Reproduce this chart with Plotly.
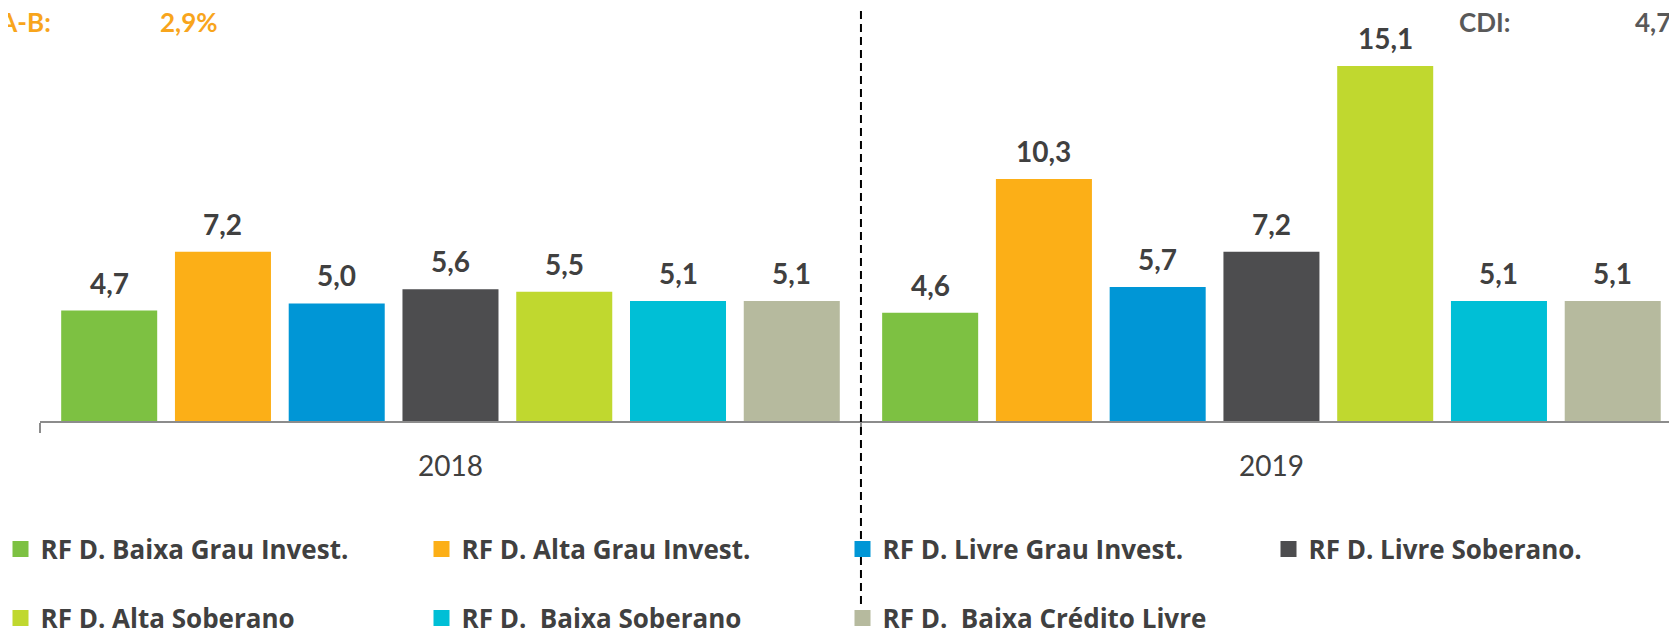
import plotly.graph_objects as go

# dados
anos = ["2018", "2019"]
series = [
    "RF D. Baixa Grau Invest.",
    "RF D. Alta Grau Invest.",
    "RF D. Livre Grau Invest.",
    "RF D. Livre Soberano.",
    "RF D. Alta Soberano",
    "RF D.\u00a0 Baixa Soberano",
    "RF D.\u00a0 Baixa Crédito Livre",
]
baixa_grau = [4.7, 4.6]
alta_grau = [7.2, 10.3]
livre_grau = [5.0, 5.7]
livre_soberano = [5.6, 7.2]
alta_soberano = [5.5, 15.1]
baixa_soberano = [5.1, 5.1]
baixa_credito = [5.1, 5.1]
valores = [baixa_grau, alta_grau, livre_grau, livre_soberano,
           alta_soberano, baixa_soberano, baixa_credito]

ima_b = "2,9%"
cdi = "4,7%"

CORES = ["#7DC142", "#FCAF17", "#0096D6", "#4D4D4F",
         "#C0D82F", "#00BFD6", "#B6BA9E"]
TXT = "#404040"
FONTE = "Lato, 'Open Sans', sans-serif"
FONTE_LEG = "'Open Sans', sans-serif"

BARGAP = 0.03
GROUPGAP = 0.156
Y_MAX = 17.57
W_PLOT = 1637   # largura da area de plotagem (px)
H_PLOT = 413    # altura da area de plotagem (px)
X0 = 40         # borda esquerda da area de plotagem na pagina
Y0 = 421        # eixo x na pagina

fig = go.Figure()
for i, (nome, vals) in enumerate(zip(series, valores)):
    fig.add_bar(x=anos, y=vals, name=nome, marker_color=CORES[i],
                marker_line_width=0, showlegend=False)

# rotulos acima das barras
slot = (1 - BARGAP) / len(series)
for k, vals in enumerate(valores):
    for j, v in enumerate(vals):
        fig.add_annotation(
            x=j + (k - (len(series) - 1) / 2) * slot, y=v,
            text=f"<b>{v:.1f}</b>".replace(".", ","),
            showarrow=False, yanchor="bottom", yshift=9,
            font=dict(family=FONTE, size=28, color=TXT),
        )

# legenda: 3 + 1 na primeira linha, 3 na segunda
grupos = ["legend", "legend", "legend", "legend3",
          "legend2", "legend2", "legend2"]
for i, nome in enumerate(series):
    fig.add_scatter(
        x=[None], y=[None], mode="markers", name=nome,
        marker=dict(symbol="square", size=16, color=CORES[i]),
        legend=grupos[i],
    )

leg = dict(
    orientation="h", xanchor="left", yanchor="middle",
    entrywidth=376, entrywidthmode="pixels",
    font=dict(family=FONTE_LEG, size=26, color=TXT, weight="bold"),
    bgcolor="rgba(0,0,0,0)", itemclick=False,
)


def px_x(x):
    return (x - X0) / W_PLOT


def px_y(y):
    return (Y0 - y) / H_PLOT


fig.update_layout(
    width=1669, height=622,
    margin=dict(l=32, r=0, t=0, b=209, autoexpand=False),
    paper_bgcolor="white", plot_bgcolor="white",
    barmode="group", bargap=BARGAP, bargroupgap=GROUPGAP,
    font=dict(family=FONTE, color=TXT),
    legend=dict(leg, x=px_x(0.5), y=px_y(549)),
    legend3=dict(leg, x=px_x(1268.5), y=px_y(549)),
    legend2=dict(leg, x=px_x(0.5), y=px_y(618)),
    shapes=[dict(
        type="line", xref="x", yref="paper", x0=0.5, x1=0.5,
        y0=px_y(604), y1=px_y(11),
        line=dict(color="black", width=2, dash="8px,5px"),
    )],
)

fig.update_xaxes(
    range=[-0.5, 1.494], showline=True, linecolor="#8C8C8C", linewidth=2,
    ticks="outside", tickson="boundaries", ticklen=10, tickcolor="#8C8C8C",
    tickwidth=2, ticklabelstandoff=19, showgrid=False,
    tickfont=dict(family=FONTE, size=28, color=TXT),
)
fig.update_yaxes(visible=False, range=[0, Y_MAX])

# indicadores no topo
topo = dict(xref="paper", yref="paper", y=px_y(22), yanchor="middle",
            showarrow=False)
fig.add_annotation(topo, x=px_x(53), xanchor="right",
                   text="<b>IMA-B:</b>",
                   font=dict(family=FONTE, size=26, color="#F8A51C"))
fig.add_annotation(topo, x=px_x(158), xanchor="left",
                   text=f"<b>{ima_b}</b>",
                   font=dict(family=FONTE, size=26, color="#F8A51C"))
fig.add_annotation(topo, x=px_x(1457), xanchor="left",
                   text="<b>CDI:</b>",
                   font=dict(family=FONTE, size=26, color="#595959"))
fig.add_annotation(topo, x=px_x(1633), xanchor="left",
                   text=f"<b>{cdi}</b>",
                   font=dict(family=FONTE, size=26, color="#595959"))

fig.write_html("out.html")
